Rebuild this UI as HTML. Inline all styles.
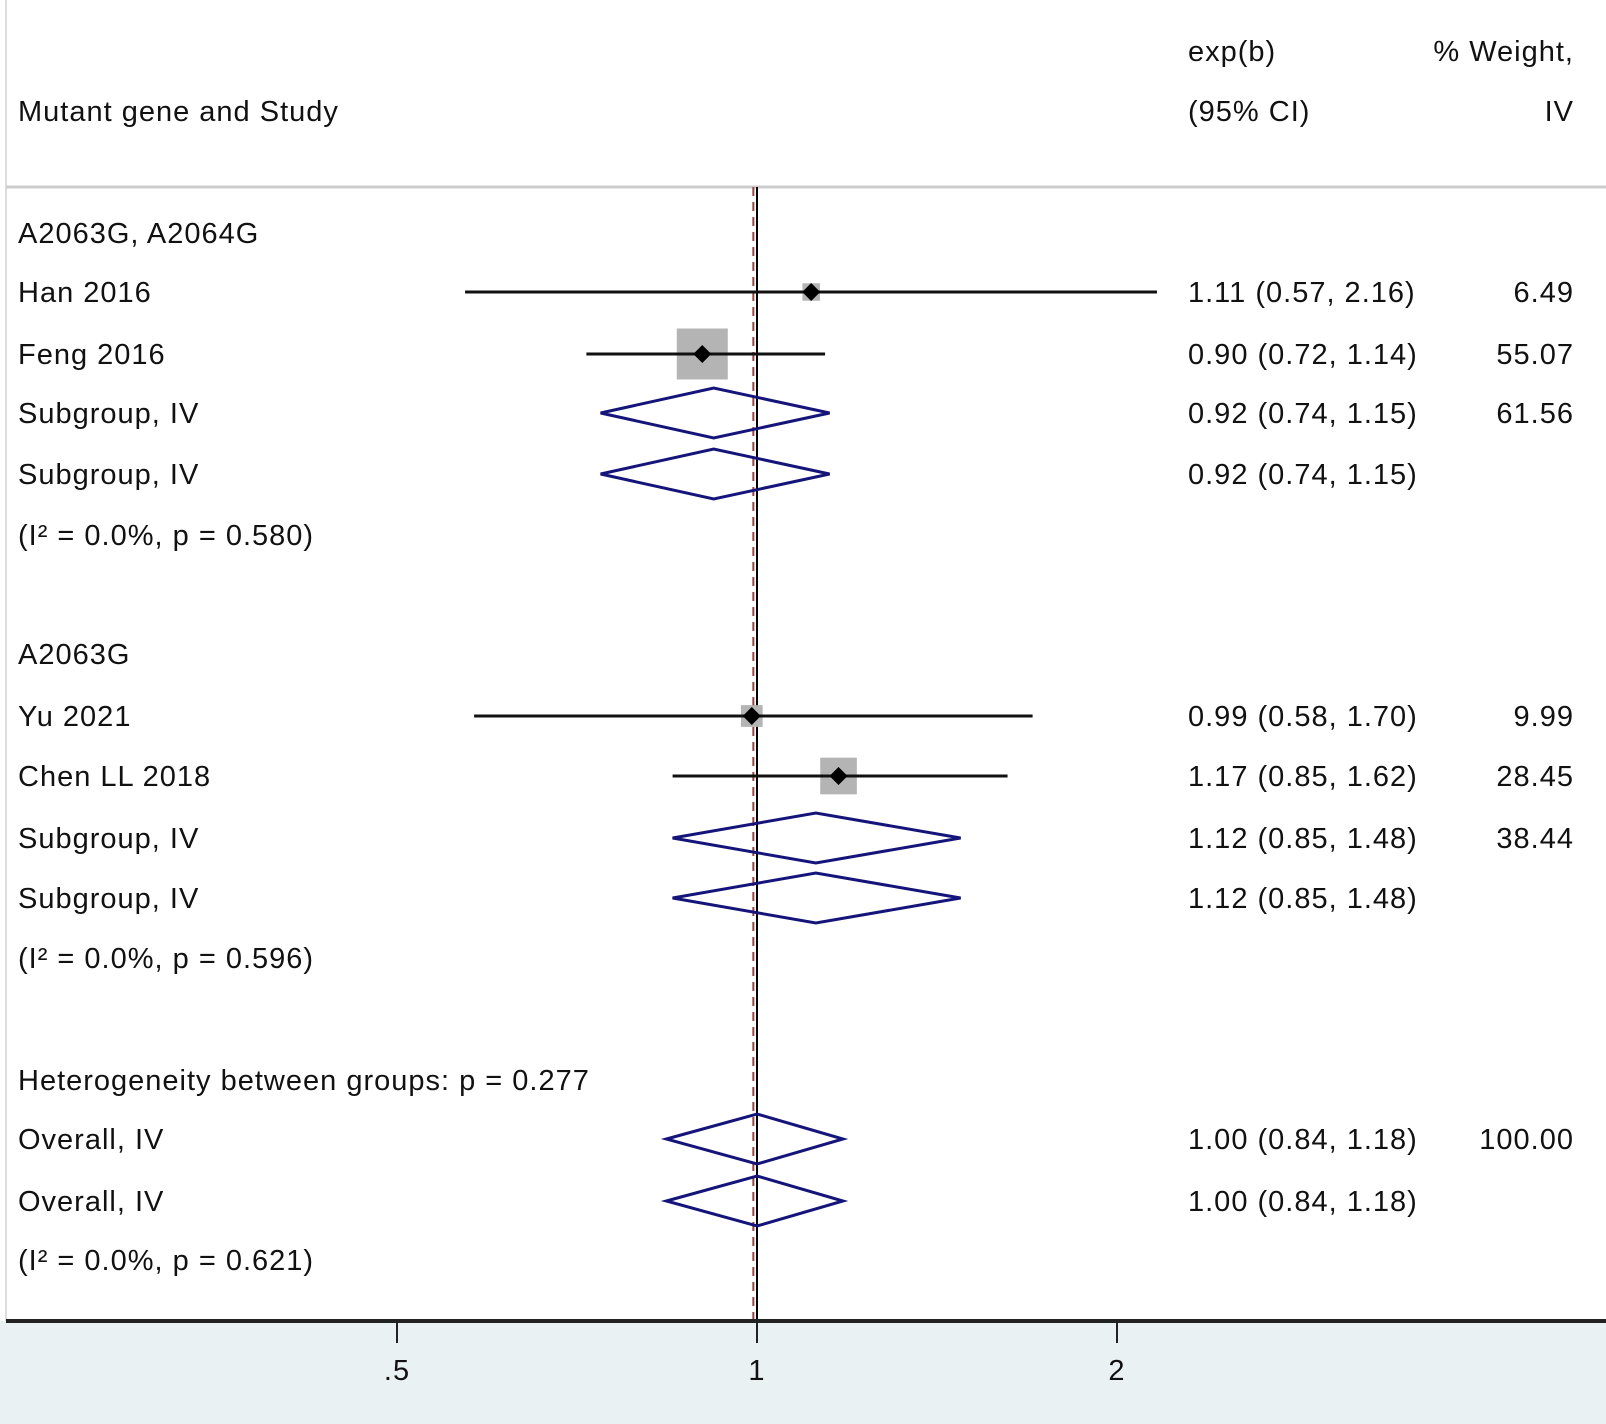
<!DOCTYPE html>
<html><head><meta charset="utf-8"><style>
body{margin:0;background:#fff;}
svg{display:block;font-family:"Liberation Sans",Arial,sans-serif;}
text{font-size:29px;fill:#111;letter-spacing:1px;}
</style></head><body>
<svg id="chart" width="1606" height="1424" viewBox="0 0 1606 1424">
<rect x="0" y="1321" width="1606" height="103" fill="#e9f1f2"/>
<line x1="6" y1="0" x2="6" y2="1321" stroke="#ddd" stroke-width="2"/>
<line x1="6" y1="187" x2="1606" y2="187" stroke="#ccc" stroke-width="3"/>
<text x="1188" y="61">exp(b)</text>
<text x="1188" y="121">(95% CI)</text>
<text x="1574" y="61" text-anchor="end">% Weight,</text>
<text x="1574" y="121" text-anchor="end">IV</text>
<text x="18" y="121">Mutant gene and Study</text>
<g id="plot"></g>
</svg>
<script>
const labels=["A2063G, A2064G","Han 2016","Feng 2016","Subgroup, IV","Subgroup, IV","(I² = 0.0%, p = 0.580)","A2063G","Yu 2021","Chen LL 2018","Subgroup, IV","Subgroup, IV","(I² = 0.0%, p = 0.596)","Heterogeneity between groups: p = 0.277","Overall, IV","Overall, IV","(I² = 0.0%, p = 0.621)"];
const rowY=[233,292,354,413,474,535,654,716,776,838,898,958,1080,1139,1201,1260];
const kinds=["h","s","s","d","d","n","h","s","s","d","d","n","n","d","d","n"];
const est=[null,1.11,0.90,0.92,0.92,null,null,0.99,1.17,1.12,1.12,null,null,1.00,1.00,null];
const lo=[null,0.57,0.72,0.74,0.74,null,null,0.58,0.85,0.85,0.85,null,null,0.84,0.84,null];
const hi=[null,2.16,1.14,1.15,1.15,null,null,1.70,1.62,1.48,1.48,null,null,1.18,1.18,null];
const weights=[null,6.49,55.07,61.56,null,null,null,9.99,28.45,38.44,null,null,null,100.00,null,null];
const tickVals=[0.5,1,2];
const tickLabels=[".5","1","2"];
const overallDashed=0.993;
const NS="http://www.w3.org/2000/svg";
const g=document.getElementById('plot');
function xs(v){return 757+360*Math.log2(v);}
function mk(t,a){const e=document.createElementNS(NS,t);for(const k in a)e.setAttribute(k,a[k]);g.appendChild(e);return e;}
const vl=mk('line',{x1:xs(1),y1:187,x2:xs(1),y2:1321,stroke:'#000','stroke-width':2});


const dl=mk('line',{x1:xs(overallDashed),y1:187,x2:xs(overallDashed),y2:1321,stroke:'#a04040','stroke-width':2,'stroke-dasharray':'9,6'});


labels.forEach((l,i)=>{
 const y=rowY[i];
 const t=mk('text',{x:18,y:y+10});t.textContent=l;
 
 
 if(est[i]!=null){
  const c=mk('text',{x:1188,y:y+10});c.textContent=est[i].toFixed(2)+" ("+lo[i].toFixed(2)+", "+hi[i].toFixed(2)+")";
  
  
 }
 if(weights[i]!=null){
  const w=mk('text',{x:1574,y:y+10,'text-anchor':'end'});w.textContent=weights[i].toFixed(2);
  
  
 }
 if(kinds[i]==='s'){
  const s=6.87*Math.sqrt(weights[i]);
  const b=mk('rect',{x:xs(est[i])-s/2,y:y-s/2,width:s,height:s,fill:'#b4b4b4'});
  
  
  const ln=mk('line',{x1:xs(lo[i]),y1:y,x2:xs(hi[i]),y2:y,stroke:'#111','stroke-width':3});
  
  
  const x=xs(est[i]);
  const p=mk('polygon',{points:`${x},${y-9} ${x+9},${y} ${x},${y+9} ${x-9},${y}`,fill:'#000'});
  
  
 } else if(kinds[i]==='d'){
  const x=xs(est[i]),a=xs(lo[i]),b=xs(hi[i]);
  const p=mk('polygon',{points:`${a},${y} ${x},${y-25} ${b},${y} ${x},${y+25}`,fill:'none',stroke:'#14147a','stroke-width':3});
  
  
 }
});
const ax=mk('line',{x1:6,y1:1321,x2:1606,y2:1321,stroke:'#222','stroke-width':4});


tickVals.forEach((v,i)=>{
 const tk=mk('line',{x1:xs(v),y1:1321,x2:xs(v),y2:1343,stroke:'#222','stroke-width':2});
 
 
 const t=mk('text',{x:xs(v),y:1380,'text-anchor':'middle'});t.textContent=tickLabels[i];
 
 
});
</script>
</body></html>
